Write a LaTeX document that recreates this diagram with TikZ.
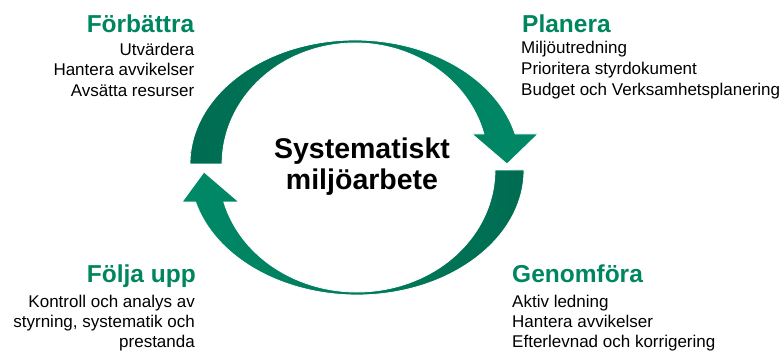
\documentclass[tikz,border=0pt]{standalone}
\usepackage{fontspec}
\setmainfont{Liberation Sans}
\definecolor{hdrgreen}{HTML}{00865F}
\definecolor{arrdark}{HTML}{006C51}
\definecolor{arrlight}{HTML}{008A67}
\begin{document}
\begin{tikzpicture}[x=1pt,y=1pt,
  hdr/.style={font=\fontsize{24.5}{28}\selectfont\bfseries, text=hdrgreen, inner sep=0},
  body/.style={font=\fontsize{17}{20}\selectfont, inner sep=0},
  ctr/.style={font=\fontsize{28.5}{31}\selectfont\bfseries, inner sep=0},
  arrowshape/.style={draw=white, line width=0.8pt}]
\useasboundingbox (0,0) rectangle (783,352);
% top curved arrow
\path[arrowshape, left color=arrdark, right color=arrlight]
  (190,188) arc[start angle=180,end angle=14,x radius=165,y radius=124]
  -- (538,218) -- (507,188) -- (472,218) -- (483.9,218)
  arc[start angle=14.36,end angle=180,x radius=133,y radius=121] -- cycle;
% bottom curved arrow
\path[arrowshape, left color=arrlight, right color=arrdark]
  (524,182) arc[start angle=0,end angle=-165.17,x radius=167,y radius=125]
  -- (182,150) -- (204,180) -- (239,150) -- (223.8,150)
  arc[start angle=-164.8,end angle=0,x radius=138,y radius=122] -- cycle;
% centre
\node[ctr, anchor=base] (c1) at (362,193) {Systematiskt};
\node[ctr, anchor=base] (c2) at (362,162) {miljöarbete};
% Förbättra
\node[hdr, anchor=base east] (fh) at (194.5,319.5) {Förbättra};
\node[body, anchor=base east] (f1) at (194.5,296.5) {Utvärdera};
\node[body, anchor=base east] (f2) at (194.5,276) {Hantera avvikelser};
\node[body, anchor=base east] (f3) at (194.5,255.5) {Avsätta resurser};
% Planera
\node[hdr, anchor=base west] (ph) at (522,319.5) {Planera};
\node[body, anchor=base west] (p1) at (521,298) {Miljöutredning};
\node[body, anchor=base west] (p2) at (521,277) {Prioritera styrdokument};
\node[body, anchor=base west] (p3) at (521,256.5) {Budget och Verksamhetsplanering};
% Följa upp
\node[hdr, anchor=base east] (uh) at (196,69) {Följa upp};
\node[body, anchor=base east] (u1) at (195,44.5) {Kontroll och analys av};
\node[body, anchor=base east] (u2) at (195,24.5) {styrning, systematik och};
\node[body, anchor=base east] (u3) at (195,4.5) {prestanda};
% Genomföra
\node[hdr, anchor=base west] (gh) at (512,69) {Genomföra};
\node[body, anchor=base west] (g1) at (512,44.5) {Aktiv ledning};
\node[body, anchor=base west] (g2) at (512,24.5) {Hantera avvikelser};
\node[body, anchor=base west] (g3) at (512,4.5) {Efterlevnad och korrigering};
\end{tikzpicture}
\end{document}
